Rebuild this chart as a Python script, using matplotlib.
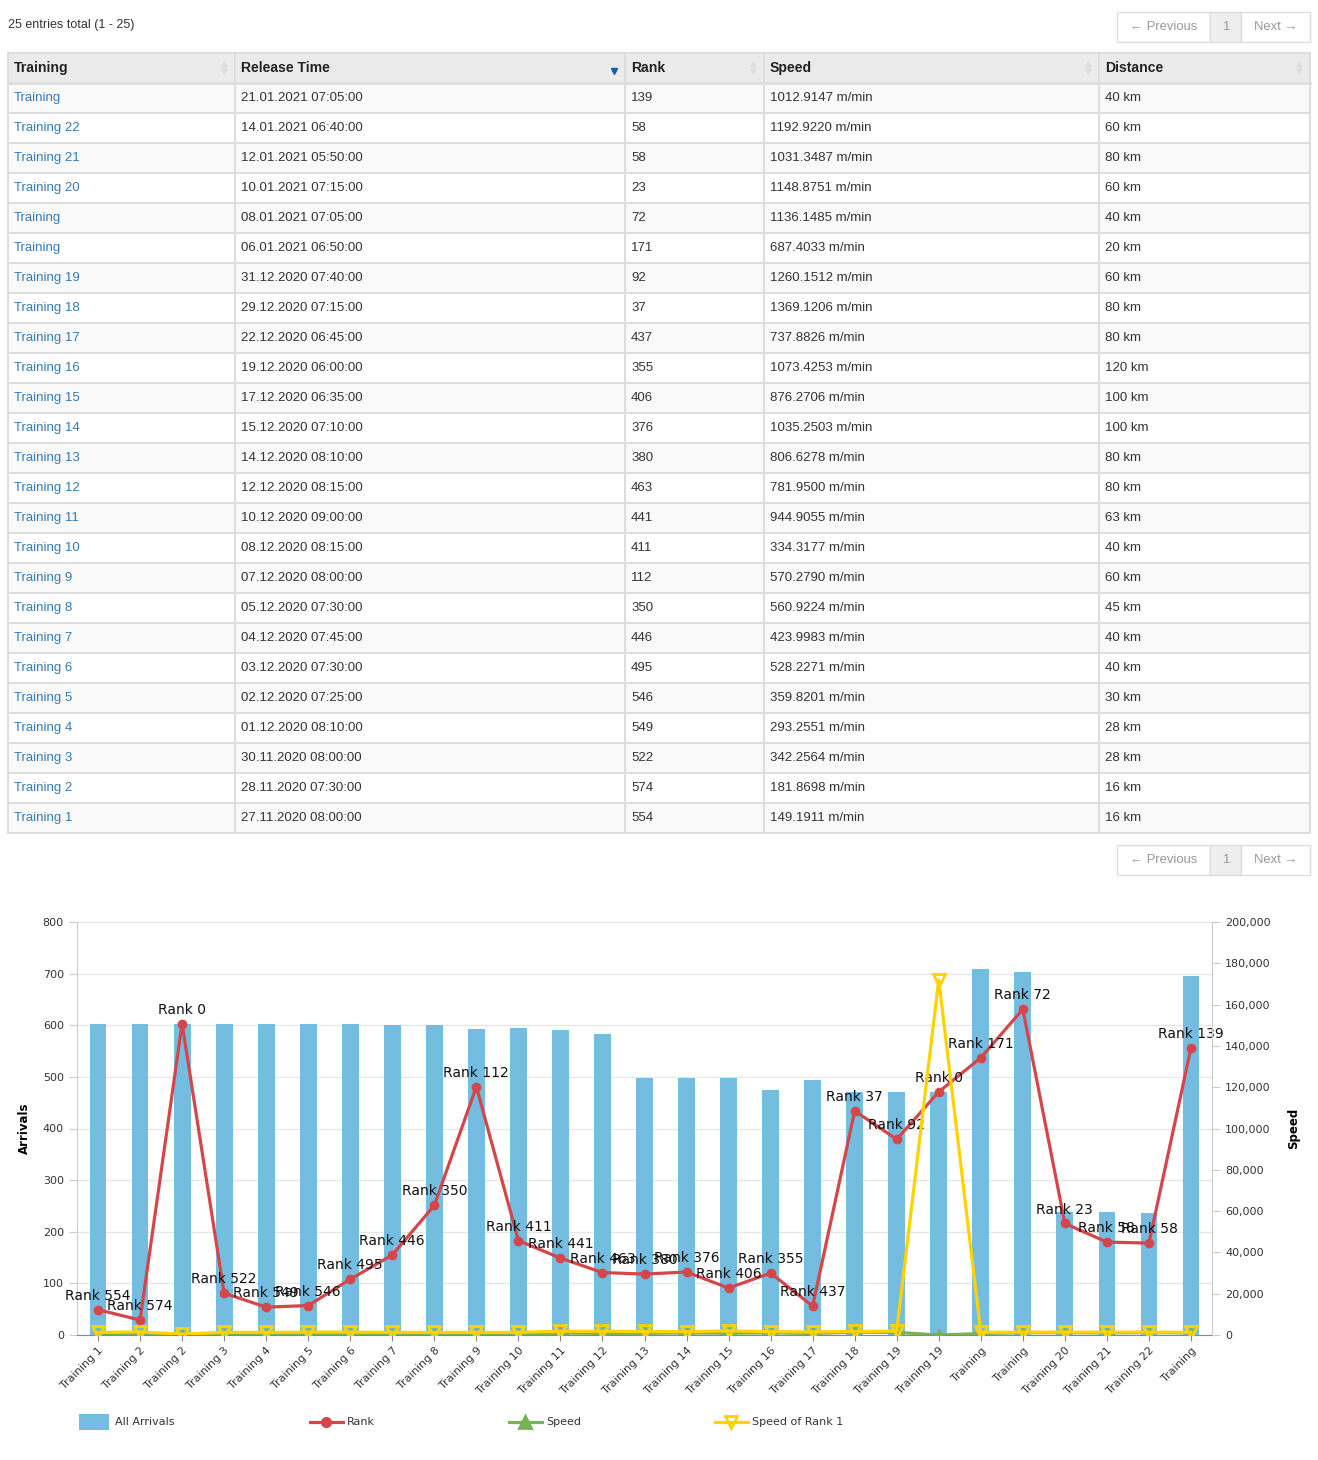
import numpy as np
import matplotlib
matplotlib.use("Agg")
import matplotlib.pyplot as plt
from matplotlib.patches import Rectangle
from matplotlib.ticker import FuncFormatter

# ---- table data (as listed, newest first) ----
table_training = ["Training", "Training 22", "Training 21", "Training 20", "Training",
                  "Training", "Training 19", "Training 18", "Training 17", "Training 16",
                  "Training 15", "Training 14", "Training 13", "Training 12", "Training 11",
                  "Training 10", "Training 9", "Training 8", "Training 7", "Training 6",
                  "Training 5", "Training 4", "Training 3", "Training 2", "Training 1"]
release_times = ["21.01.2021 07:05:00", "14.01.2021 06:40:00", "12.01.2021 05:50:00",
                 "10.01.2021 07:15:00", "08.01.2021 07:05:00", "06.01.2021 06:50:00",
                 "31.12.2020 07:40:00", "29.12.2020 07:15:00", "22.12.2020 06:45:00",
                 "19.12.2020 06:00:00", "17.12.2020 06:35:00", "15.12.2020 07:10:00",
                 "14.12.2020 08:10:00", "12.12.2020 08:15:00", "10.12.2020 09:00:00",
                 "08.12.2020 08:15:00", "07.12.2020 08:00:00", "05.12.2020 07:30:00",
                 "04.12.2020 07:45:00", "03.12.2020 07:30:00", "02.12.2020 07:25:00",
                 "01.12.2020 08:10:00", "30.11.2020 08:00:00", "28.11.2020 07:30:00",
                 "27.11.2020 08:00:00"]
table_ranks = [139, 58, 58, 23, 72, 171, 92, 37, 437, 355, 406, 376, 380, 463, 441,
               411, 112, 350, 446, 495, 546, 549, 522, 574, 554]
table_speeds = ["1012.9147", "1192.9220", "1031.3487", "1148.8751", "1136.1485",
                "687.4033", "1260.1512", "1369.1206", "737.8826", "1073.4253",
                "876.2706", "1035.2503", "806.6278", "781.9500", "944.9055",
                "334.3177", "570.2790", "560.9224", "423.9983", "528.2271",
                "359.8201", "293.2551", "342.2564", "181.8698", "149.1911"]
table_distances = [40, 60, 80, 60, 40, 20, 60, 80, 80, 120, 100, 100, 80, 80, 63,
                   40, 60, 45, 40, 40, 30, 28, 28, 16, 16]
headers = ["Training", "Release Time", "Rank", "Speed", "Distance"]

# ---- chart data (chronological) ----
chart_labels = ["Training 1", "Training 2", "Training 2", "Training 3", "Training 4",
                "Training 5", "Training 6", "Training 7", "Training 8", "Training 9",
                "Training 10", "Training 11", "Training 12", "Training 13", "Training 14",
                "Training 15", "Training 16", "Training 17", "Training 18", "Training 19",
                "Training 19", "Training", "Training", "Training 20", "Training 21",
                "Training 22", "Training"]
all_arrivals = [603, 603, 603, 603, 603, 603, 603, 601, 601, 593, 594, 590, 584, 498,
                498, 497, 475, 493, 471, 471, 471, 708, 703, 239, 238, 236, 695]
rank_points = [49, 29, 603, 81, 54, 57, 108, 155, 251, 481, 183, 149, 121, 118, 122,
               91, 120, 56, 434, 379, 471, 537, 631, 216, 180, 178, 556]
rank_labels = [554, 574, 0, 522, 549, 546, 495, 446, 350, 112, 411, 441, 463, 380, 376,
               406, 355, 437, 37, 92, 0, 171, 72, 23, 58, 58, 139]
speed = [149.19, 181.87, 0, 342.26, 293.26, 359.82, 528.23, 424.00, 560.92, 570.28,
         334.32, 944.91, 781.95, 806.63, 1035.25, 876.27, 1073.43, 737.88, 1369.12,
         1260.15, 0, 687.40, 1136.15, 1148.88, 1031.35, 1192.92, 1012.91]
speed_rank1 = [1300, 1500, 400, 1300, 1300, 1400, 1400, 1300, 1300, 1300, 1300, 1800,
               1800, 1700, 1600, 2000, 1600, 1500, 1700, 1900, 172000, 1300, 1400,
               1400, 1400, 1400, 1300]

W, H = 1318, 1460
TFONT = ["Liberation Sans", "DejaVu Sans"]
BORDER = "#DDDDDD"
LINK = "#337AB7"


def pt(pixels):
    return pixels * 0.72


fig = plt.figure(figsize=(W / 100, H / 100), dpi=100)
bg = fig.add_axes([0, 0, 1, 1])
bg.set_xlim(0, W)
bg.set_ylim(H, 0)
bg.axis("off")

# header line above table
bg.text(8, 25, "25 entries total (1 - 25)", fontsize=pt(12.5), family=TFONT,
        color="#333333", va="center")


def pager(y0):
    segs = [(1117, 1210, "\u2190 Previous"), (1210, 1241, "1"), (1241, 1310, "Next \u2192")]
    for i, (a, b, txt) in enumerate(segs):
        fc = "#EEEEEE" if i == 1 else "white"
        bg.add_patch(Rectangle((a, y0), b - a, 30, fc=fc, ec=BORDER, lw=1))
        bg.text((a + b) / 2, y0 + 15, txt, fontsize=pt(13), family=TFONT,
                color="#999999", ha="center", va="center")


pager(12)
pager(845)

# table
col_x = [8, 235, 625, 764, 1099, 1310]
top, row_h = 53, 30
n_rows = len(table_training)
bg.add_patch(Rectangle((col_x[0], top), col_x[-1] - col_x[0], row_h, fc="#EBEBEB", lw=0))
for i in range(n_rows):
    fc = "#F9F9F9" if i % 2 == 0 else "white"
    bg.add_patch(Rectangle((col_x[0], top + row_h * (i + 1)), col_x[-1] - col_x[0], row_h,
                           fc=fc, lw=0))
bottom = top + row_h * (n_rows + 1)
for cx in col_x:
    bg.plot([cx, cx], [top, bottom], color=BORDER, lw=1.4)
for k in range(n_rows + 2):
    yy = top + row_h * k
    bg.plot([col_x[0], col_x[-1]], [yy, yy], color=BORDER, lw=1.4 if k != 1 else 2)

for j, h in enumerate(headers):
    bg.text(col_x[j] + 6, top + 15, h, fontsize=pt(14), family=TFONT,
            fontweight="bold", color="#222222", va="center")
    if j == 1:
        bg.plot(col_x[j + 1] - 11, top + 18, marker="v", ms=5, color="#1E5BA8")
    else:
        bg.plot(col_x[j + 1] - 11, top + 11, marker="^", ms=3.5, color="#DDDDDD")
        bg.plot(col_x[j + 1] - 11, top + 18, marker="v", ms=3.5, color="#DDDDDD")

for i in range(n_rows):
    yc = top + row_h * (i + 1) + 15
    cells = [table_training[i], release_times[i], str(table_ranks[i]),
             table_speeds[i] + " m/min", f"{table_distances[i]} km"]
    for j, c in enumerate(cells):
        bg.text(col_x[j] + 6, yc, c, fontsize=pt(13.3), family=TFONT,
                color=LINK if j == 0 else "#333333", va="center")

# ---- chart ----
ax = fig.add_axes([77 / W, 1 - 1335 / H, 1135 / W, 413 / H])
x = np.arange(len(chart_labels))
ax.bar(x, all_arrivals, width=0.4, color="#74BDE1", zorder=2)
ax.set_xlim(-0.5, len(x) - 0.5)
ax.set_ylim(0, 800)
ax.set_yticks(range(0, 801, 100))
ax.grid(axis="y", color="#E6E6E6", lw=1)
ax.set_axisbelow(True)
for s in ["top", "right"]:
    ax.spines[s].set_visible(False)
ax.spines["left"].set_color("#CCCCCC")
ax.spines["bottom"].set_color("#888888")
ax.tick_params(axis="y", length=6, color="#CCCCCC", labelsize=8, labelcolor="#333333")
ax.tick_params(axis="x", length=4, color="#888888", labelsize=8, labelcolor="#333333")
ax.set_xticks(x)
ax.set_xticklabels(chart_labels, rotation=45, ha="right", rotation_mode="anchor")
ax.set_ylabel("Arrivals", fontweight="bold", fontsize=8.5)
ax.yaxis.set_label_coords(-0.041, 0.5)

ax.plot(x, rank_points, color="#D4464A", lw=2.3, marker="o", ms=6, zorder=4)
for xi, yi, r in zip(x, rank_points, rank_labels):
    ax.annotate(f"Rank {r}", (xi, yi), xytext=(0, 5), textcoords="offset points",
                ha="center", va="bottom", fontsize=10, color="#111111", zorder=6)

ax2 = ax.twinx()
ax2.set_ylim(0, 200000)
ax2.set_yticks(range(0, 200001, 20000))
ax2.yaxis.set_major_formatter(FuncFormatter(lambda v, p: f"{int(v):,}"))
for s in ["top", "left", "bottom"]:
    ax2.spines[s].set_visible(False)
ax2.spines["right"].set_color("#CCCCCC")
ax2.tick_params(axis="y", length=6, color="#CCCCCC", labelsize=8, labelcolor="#333333")
ax2.plot(x, speed, color="#77B255", lw=2.3, marker="^", ms=8, zorder=3)
ax2.plot(x, speed_rank1, color="#FFD200", lw=2.3, marker="v", ms=9,
         mfc="none", mec="#FFD200", mew=2, zorder=4)
ax2.set_ylabel("Speed", fontweight="bold", fontsize=8.5)
ax2.yaxis.set_label_coords(1.066, 0.5)

bg.text(83, 936, "JS chart by amCharts", fontsize=8, color="#777777", va="center")

# legend
ly = 1422
bg.add_patch(Rectangle((79, ly - 8), 30, 16, fc="#74BDE1", lw=0))
bg.text(115, ly, "All Arrivals", fontsize=8, color="#333333", va="center")
legend_items = [(310, "Rank", "#D4464A", "o", 6, None), (509, "Speed", "#77B255", "^", 8, None),
                (715, "Speed of Rank 1", "#FFD200", "v", 9, "none")]
for lx, name, col, mk, ms, mfc in legend_items:
    bg.plot([lx, lx + 33], [ly, ly], color=col, lw=2.3)
    bg.plot(lx + 16, ly, marker=mk, ms=ms, color=col, mfc=mfc or col, mew=2)
    bg.text(lx + 37, ly, name, fontsize=8, color="#333333", va="center")

fig.savefig("out.png", dpi=100)
